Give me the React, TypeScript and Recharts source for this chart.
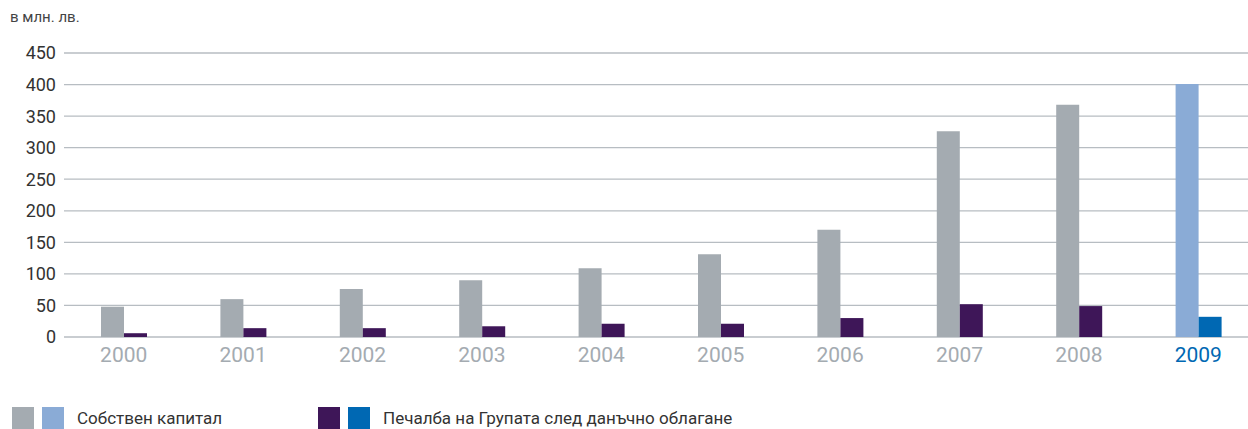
import { BarChart, Bar, XAxis, YAxis, CartesianGrid, Cell } from 'recharts';

const years = ['2000', '2001', '2002', '2003', '2004', '2005', '2006', '2007', '2008', '2009'];
const equity = [48, 60, 76, 90, 109, 131, 170, 326, 368, 401];
const profit = [6, 14, 14, 17, 21, 21, 30, 52, 49, 32];
const yTicks = [0, 50, 100, 150, 200, 250, 300, 350, 400, 450];

const GRAY = '#a4abb1';
const PURPLE = '#3e1658';
const LIGHT_BLUE = '#8aabd6';
const BLUE = '#0068b3';
const FONT = 'Roboto, "DejaVu Sans", sans-serif';

const data = years.map((y, i) => ({ year: y, equity: equity[i], profit: profit[i] }));
const lastYear = years[years.length - 1];

const XTick = ({ x, y, payload }: any) => (
  <text
    x={x}
    y={y}
    dy={17}
    textAnchor="middle"
    fontSize={21}
    fontFamily={FONT}
    fill={payload.value === lastYear ? BLUE : GRAY}
  >
    {payload.value}
  </text>
);

const Swatch = ({ color }: { color: string }) => (
  <span style={{ display: 'inline-block', width: 22, height: 22, background: color, marginRight: 8 }} />
);

export default function App() {
  return (
    <div style={{ position: 'absolute', left: 0, top: 0, width: 1248, height: 429, background: '#fff', fontFamily: FONT, overflow: 'hidden' }}>
      <div style={{ position: 'absolute', left: 10, top: 8, fontSize: 15, color: '#444' }}>в млн. лв.</div>
      <BarChart
        width={1248}
        height={429}
        data={data}
        margin={{ top: 53, right: -10, left: 0, bottom: 62 }}
        barGap={0}
        barSize={23}
      >
        <CartesianGrid vertical={false} stroke="#b7bdc2" strokeWidth={1.3} />
        <XAxis dataKey="year" axisLine={false} tickLine={false} tick={<XTick />} height={30} interval={0} />
        <YAxis
          domain={[0, 450]}
          ticks={yTicks}
          width={64}
          axisLine={false}
          tickLine={false}
          tickMargin={2}
          tick={{ fontSize: 18, fill: '#333', fontFamily: FONT }}
        />
        <Bar dataKey="equity" isAnimationActive={false}>
          {data.map((d) => (
            <Cell key={d.year} fill={d.year === lastYear ? LIGHT_BLUE : GRAY} />
          ))}
        </Bar>
        <Bar dataKey="profit" isAnimationActive={false}>
          {data.map((d) => (
            <Cell key={d.year} fill={d.year === lastYear ? BLUE : PURPLE} />
          ))}
        </Bar>
      </BarChart>
      <div style={{ position: 'absolute', left: 12, top: 407, display: 'flex', alignItems: 'center', fontSize: 17, color: '#333' }}>
        <Swatch color={GRAY} />
        <Swatch color={LIGHT_BLUE} />
        <span style={{ marginLeft: 5 }}>Собствен капитал</span>
      </div>
      <div style={{ position: 'absolute', left: 318, top: 407, display: 'flex', alignItems: 'center', fontSize: 17, color: '#333' }}>
        <Swatch color={PURPLE} />
        <Swatch color={BLUE} />
        <span style={{ marginLeft: 5 }}>Печалба на Групата след данъчно облагане</span>
      </div>
    </div>
  );
}
